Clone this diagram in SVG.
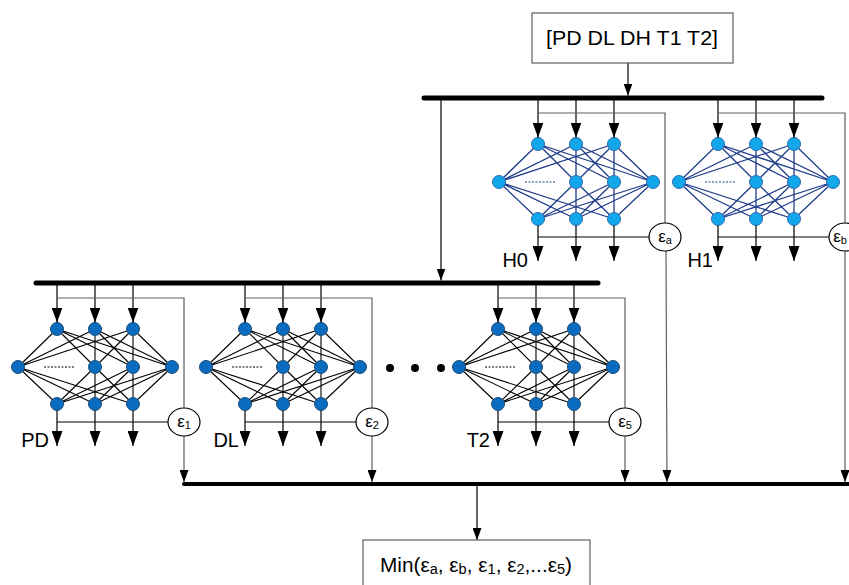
<svg xmlns="http://www.w3.org/2000/svg" xmlns:xlink="http://www.w3.org/1999/xlink" width="849" height="585" viewBox="0 0 849 585">
<style>
text{font-family:"Liberation Sans",Arial,sans-serif;fill:#000}
.bus{stroke:#000;stroke-width:5;stroke-linecap:round;fill:none}
.ln{stroke:#000;stroke-width:1.2;fill:none}
.gl{stroke:#606060;stroke-width:1.2;fill:none}
.he{stroke:#1f3c88;stroke-width:1.3;fill:none}
.le{stroke:#000;stroke-width:1.1;fill:none}
.hn{fill:#12a6ea;stroke:#2b6cb0;stroke-width:1}
.ln2{fill:#0a6cc0;stroke:#1f4e79;stroke-width:1}
.eps{fill:#fff;stroke:#000;stroke-width:1.2}
.box{fill:#fff;stroke:#606060;stroke-width:1.2}
.lbl{font-size:20px}
.et{font-size:17px}
.dh{stroke:#1f3c88;stroke-width:1.2;stroke-dasharray:2 1.5}
.dl{stroke:#000;stroke-width:1.2;stroke-dasharray:2 1.5}
</style>
<defs>
<marker id="ab" markerUnits="userSpaceOnUse" markerWidth="15" markerHeight="11" viewBox="0 0 15 11" refX="15" refY="5.5" orient="auto"><path d="M0,0L15,5.5L0,11z" fill="#000"/></marker>
<marker id="as" markerUnits="userSpaceOnUse" markerWidth="12" markerHeight="9" viewBox="0 0 12 9" refX="12" refY="4.5" orient="auto"><path d="M0,0L12,4.5L0,9z" fill="#000"/></marker>
<path id="edges" d="M0 46L-39 84M0 46L38 84M0 46L76 84M0 46L115 84M38 46L-39 84M38 46L38 84M38 46L76 84M38 46L115 84M76 46L-39 84M76 46L38 84M76 46L76 84M76 46L115 84M-39 84L0 121M-39 84L38 121M-39 84L76 121M38 84L0 121M38 84L38 121M38 84L76 121M76 84L0 121M76 84L38 121M76 84L76 121M115 84L0 121M115 84L38 121M115 84L76 121"/>
<g id="nodes">
<circle cx="0" cy="46" r="6.5"/><circle cx="38" cy="46" r="6.5"/><circle cx="76" cy="46" r="6.5"/>
<circle cx="-39" cy="84" r="6.5"/><circle cx="38" cy="84" r="6.5"/><circle cx="76" cy="84" r="6.5"/><circle cx="115" cy="84" r="6.5"/>
<circle cx="0" cy="121" r="6.5"/><circle cx="38" cy="121" r="6.5"/><circle cx="76" cy="121" r="6.5"/>
</g>
<g id="io">
<line class="ln" x1="0" y1="0" x2="0" y2="39.5" marker-end="url(#ab)"/>
<line class="ln" x1="38" y1="0" x2="38" y2="39.5" marker-end="url(#ab)"/>
<line class="ln" x1="76" y1="0" x2="76" y2="39.5" marker-end="url(#ab)"/>
<polyline class="gl" points="0,15 127,15 127,125"/>
<line class="ln" x1="0" y1="127.5" x2="0" y2="163" marker-end="url(#ab)"/>
<line class="ln" x1="38" y1="127.5" x2="38" y2="163" marker-end="url(#ab)"/>
<line class="ln" x1="76" y1="127.5" x2="76" y2="163" marker-end="url(#ab)"/>
<line class="ln" x1="0" y1="139" x2="111" y2="139"/>
<ellipse class="eps" cx="127" cy="139" rx="16" ry="14"/>
</g>
</defs>

<g id="connectors">
<line class="bus" x1="424" y1="98" x2="822" y2="98"/>
<line class="bus" x1="36" y1="283" x2="598" y2="283"/>
<line class="bus" x1="184" y1="484" x2="852" y2="484" style="stroke-width:4"/>
<line class="ln" x1="628" y1="63" x2="628" y2="95.5" marker-end="url(#as)"/>
<line class="ln" x1="441" y1="98" x2="441" y2="280.5" marker-end="url(#as)"/>
<line class="ln" x1="477" y1="484" x2="477" y2="540" marker-end="url(#as)"/>
<line class="gl" x1="184" y1="436" x2="184" y2="482" marker-end="url(#as)"/>
<line class="gl" x1="372" y1="436" x2="372" y2="482" marker-end="url(#as)"/>
<line class="gl" x1="625" y1="436" x2="625" y2="482" marker-end="url(#as)"/>
<line class="gl" x1="666" y1="251" x2="667" y2="482" marker-end="url(#as)"/>
<line class="gl" x1="845" y1="251" x2="845" y2="482" marker-end="url(#as)"/>
</g>

<g id="input-box">
<rect class="box" x="532" y="13" width="201" height="50"/>
<text x="632" y="45" font-size="20" text-anchor="middle" textLength="172" lengthAdjust="spacingAndGlyphs">[PD DL DH T1 T2]</text>
</g>

<g id="net-H0" transform="translate(538,98)">
<use href="#edges" class="he"/>
<line class="dh" x1="-13" y1="84" x2="17" y2="84"/>
<use href="#nodes" class="hn"/>
<use href="#io"/>
<text class="et" x="127" y="144" text-anchor="middle">ε<tspan font-size="11" dy="2">a</tspan></text>
<text class="lbl" x="-10" y="169" text-anchor="end">H0</text>
</g>

<g id="net-H1" transform="translate(718,98)">
<use href="#edges" class="he"/>
<line class="dh" x1="-13" y1="84" x2="17" y2="84"/>
<use href="#nodes" class="hn"/>
<use href="#io"/>
<text class="et" x="122" y="144" text-anchor="middle">ε<tspan font-size="11" dy="2">b</tspan></text>
<text class="lbl" x="-5" y="169" text-anchor="end">H1</text>
</g>

<g id="net-PD" transform="translate(57,283)">
<use href="#edges" class="le"/>
<line class="dl" x1="-13" y1="84" x2="17" y2="84"/>
<use href="#nodes" class="ln2"/>
<use href="#io"/>
<text class="et" x="127" y="144" text-anchor="middle">ε<tspan font-size="11" dy="2">1</tspan></text>
<text class="lbl" x="-8" y="164" text-anchor="end">PD</text>
</g>

<g id="net-DL" transform="translate(245,283)">
<use href="#edges" class="le"/>
<line class="dl" x1="-13" y1="84" x2="17" y2="84"/>
<use href="#nodes" class="ln2"/>
<use href="#io"/>
<text class="et" x="127" y="144" text-anchor="middle">ε<tspan font-size="11" dy="2">2</tspan></text>
<text class="lbl" x="-6" y="164" text-anchor="end">DL</text>
</g>

<g id="ellipsis">
<circle cx="390" cy="368" r="4" fill="#000"/>
<circle cx="415" cy="368" r="4" fill="#000"/>
<circle cx="441" cy="368" r="4" fill="#000"/>
</g>

<g id="net-T2" transform="translate(498,283)">
<use href="#edges" class="le"/>
<line class="dl" x1="-13" y1="84" x2="17" y2="84"/>
<use href="#nodes" class="ln2"/>
<use href="#io"/>
<text class="et" x="127" y="144" text-anchor="middle">ε<tspan font-size="11" dy="2">5</tspan></text>
<text class="lbl" x="-8" y="164" text-anchor="end">T2</text>
</g>

<g id="min-box">
<rect class="box" x="363" y="540" width="227" height="60"/>
<text x="476" y="572" font-size="20" text-anchor="middle" textLength="192" lengthAdjust="spacingAndGlyphs">Min(ε<tspan font-size="14" dy="2">a</tspan><tspan dy="-2">, ε</tspan><tspan font-size="14" dy="2">b</tspan><tspan dy="-2">, ε</tspan><tspan font-size="14" dy="2">1</tspan><tspan dy="-2">, ε</tspan><tspan font-size="14" dy="2">2</tspan><tspan dy="-2">,...ε</tspan><tspan font-size="14" dy="2">5</tspan><tspan dy="-2">)</tspan></text>
</g>
</svg>
